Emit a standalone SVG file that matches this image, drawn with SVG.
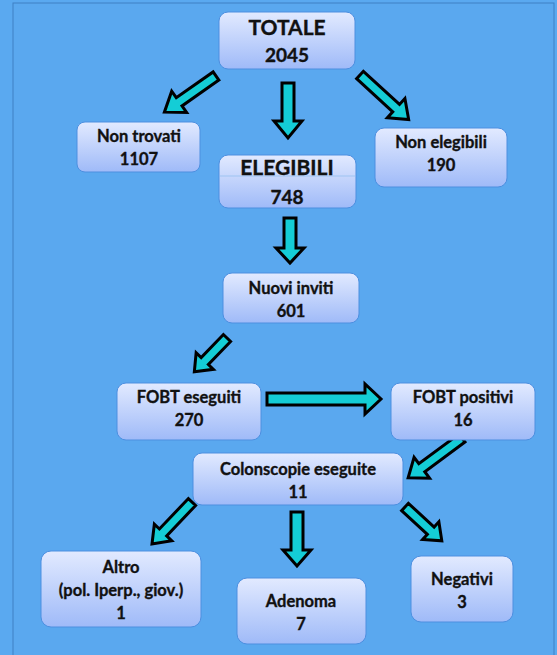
<svg xmlns="http://www.w3.org/2000/svg" width="557" height="655" viewBox="0 0 557 655">
<defs>
<linearGradient id="g" x1="0" y1="0" x2="0" y2="1">
<stop offset="0" stop-color="#e2eaff"/>
<stop offset="1" stop-color="#9fbaf8"/>
</linearGradient>
<style>
.box{fill:url(#g);stroke:#4d8fe0;stroke-width:1}
.t{font-family:Lato,"Open Sans","Liberation Sans",sans-serif;font-weight:bold;fill:#111;stroke:#111;stroke-width:0.35;text-anchor:middle}
.s{font-size:16.5px}
.b{font-size:21px}
.m{font-size:19px}
.arr{fill:#14cdd6;stroke:#000;stroke-width:3;stroke-linejoin:miter}
</style>
</defs>
<rect x="0" y="0" width="557" height="655" fill="#5aa9f0"/>
<rect x="13" y="3" width="541" height="660" fill="#5aa8ef" stroke="#3f80c4" stroke-width="1"/>
<g id="connectors">
<polygon class="arr" transform="translate(216,76) rotate(145)" points="0,-5 45,-5 45,-13 63,0 45,13 45,5 0,5"/>
<polygon class="arr" transform="translate(288,83) rotate(90)" points="0,-6 38,-6 38,-14 55,0 38,14 38,6 0,6"/>
<polygon class="arr" transform="translate(360,75) rotate(42.5)" points="0,-5 49,-5 49,-13 66,0 49,13 49,5 0,5"/>
<polygon class="arr" transform="translate(290,218) rotate(90)" points="0,-6 30,-6 30,-14 45,0 30,14 30,6 0,6"/>
<polygon class="arr" transform="translate(227,338) rotate(134)" points="0,-5 32,-5 32,-12 47,0 32,12 32,5 0,5"/>
<polygon class="arr" transform="translate(267,399)" points="0,-6 98,-6 98,-15 114,0 98,15 98,6 0,6"/>
<polygon class="arr" transform="translate(462,438) rotate(143.5)" points="0,-5 50,-5 50,-13 67,0 50,13 50,5 0,5"/>
<polygon class="arr" transform="translate(192,502) rotate(133.6)" points="0,-5 42,-5 42,-12 58,0 42,12 42,5 0,5"/>
<polygon class="arr" transform="translate(297,512) rotate(90)" points="0,-6 38,-6 38,-14 54,0 38,14 38,6 0,6"/>
<polygon class="arr" transform="translate(405,507) rotate(42.6)" points="0,-5 35,-5 35,-12 50,0 35,12 35,5 0,5"/>
</g>
<g id="totale">
<rect class="box" x="219" y="12" width="136" height="57" rx="9"/>
<text class="t b" x="287" y="35">TOTALE</text>
<text class="t m" x="287" y="62">2045</text>
</g>
<g id="non-trovati">
<rect class="box" x="77" y="122" width="123" height="50" rx="8"/>
<text class="t s" x="139" y="142">Non trovati</text>
<text class="t s" x="139" y="165">1107</text>
</g>
<g id="elegibili">
<rect class="box" x="219" y="155" width="137" height="53" rx="9"/>
<line x1="220" y1="176" x2="355" y2="176" stroke="#9fc4f2" stroke-width="1"/>
<text class="t b" x="287" y="175">ELEGIBILI</text>
<text class="t m" x="287" y="204">748</text>
</g>
<g id="non-elegibili">
<rect class="box" x="375" y="128" width="132" height="59" rx="9"/>
<text class="t s" x="441" y="148">Non elegibili</text>
<text class="t s" x="441" y="171">190</text>
</g>
<g id="nuovi-inviti">
<rect class="box" x="223" y="273" width="136" height="50" rx="9"/>
<text class="t s" x="291" y="294">Nuovi inviti</text>
<text class="t s" x="291" y="317">601</text>
</g>
<g id="fobt-eseguiti">
<rect class="box" x="117" y="383" width="144" height="57" rx="9"/>
<text class="t s" x="189" y="403">FOBT eseguiti</text>
<text class="t s" x="189" y="426">270</text>
</g>
<g id="fobt-positivi">
<rect class="box" x="391" y="383" width="144" height="57" rx="9"/>
<text class="t s" x="463" y="403">FOBT positivi</text>
<text class="t s" x="463" y="426">16</text>
</g>
<g id="colonscopie">
<rect class="box" x="193" y="453" width="210" height="52" rx="9"/>
<text class="t s" x="298" y="475">Colonscopie eseguite</text>
<text class="t s" x="298" y="498">11</text>
</g>
<g id="altro">
<rect class="box" x="41" y="551" width="160" height="76" rx="10"/>
<text class="t s" x="121" y="573">Altro</text>
<text class="t s" x="121" y="596">(pol. Iperp., giov.)</text>
<text class="t s" x="121" y="619">1</text>
</g>
<g id="adenoma">
<rect class="box" x="237" y="578" width="129" height="66" rx="10"/>
<text class="t s" x="301" y="607">Adenoma</text>
<text class="t s" x="301" y="630">7</text>
</g>
<g id="negativi">
<rect class="box" x="411" y="556" width="102" height="66" rx="10"/>
<text class="t s" x="462" y="585">Negativi</text>
<text class="t s" x="462" y="608">3</text>
</g>
</svg>
